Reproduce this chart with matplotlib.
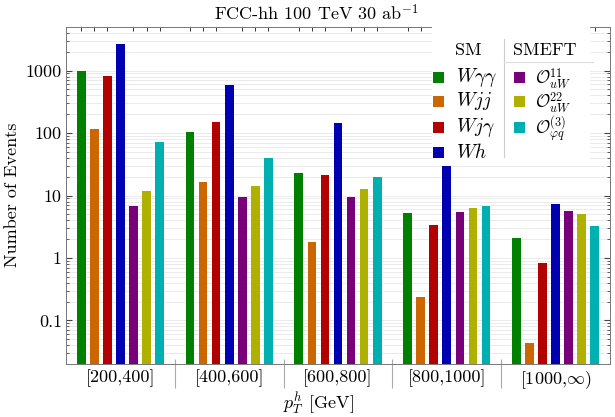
import numpy as np
import matplotlib.pyplot as plt
from matplotlib.patches import Rectangle

plt.rcParams['font.family'] = ['cmr10', 'DejaVu Serif']
plt.rcParams['mathtext.fontset'] = 'cm'
plt.rcParams['axes.unicode_minus'] = False

# --- data
bins = ['[200,400]', '[400,600]', '[600,800]', '[800,1000]', '[1000,$\\infty$)']

w_aa = [1000, 104, 23, 5.2, 2.1]
w_jj = [117, 16.3, 1.78, 0.234, 0.0436]
w_ja = [810, 150, 21.2, 3.4, 0.84]
w_h = [2710, 596, 145, 29.5, 7.3]
o_uw11 = [6.7, 9.4, 9.6, 5.4, 5.7]
o_uw22 = [12, 14.4, 12.8, 6.25, 5.07]
o_phiq3 = [72, 40, 19.7, 6.9, 3.3]

sm_labels = ['$W\\gamma\\gamma$', '$Wjj$', '$Wj\\gamma$', '$Wh$']
smeft_labels = ['$\\mathcal{O}_{uW}^{11}$', '$\\mathcal{O}_{uW}^{22}$',
                '$\\mathcal{O}_{\\varphi q}^{(3)}$']

series = [w_aa, w_jj, w_ja, w_h, o_uw11, o_uw22, o_phiq3]
colors = ['#008000', '#cc6600', '#b30000', '#0000b3',
          '#780078', '#b0b000', '#00b0b0']

fs = 13

fig = plt.figure(figsize=(6.15, 4.17), dpi=100)
ax = fig.add_axes([66/615, 53/417, 544/615, 337/417])

x = np.arange(len(bins))
step = 0.12
width = 0.08

for k in range(len(series)):
    ax.bar(x + (k - 3)*step, series[k], width=width, color=colors[k], zorder=2)

ax.set_yscale('log')
ax.set_ylim(0.02, 5000)
ax.set_xlim(-0.5, len(bins) - 0.5)

# --- grid lines (drawn under the bars, ticks stay on top)
for dec in range(-2, 4):
    for m in range(1, 10):
        v = m * 10.0**dec
        if 0.02 < v < 5000:
            ax.axhline(v, color='#e8e8e8', lw=0.6, zorder=0)

# --- ticks
ax.set_yticks([0.1, 1, 10, 100, 1000])
ax.set_yticklabels(['0.1', '1', '10', '100', '1000'])
ax.yaxis.set_minor_formatter(plt.NullFormatter())
ax.tick_params(axis='y', which='both', direction='in', left=True, right=True,
               color='#444444', labelsize=fs, pad=3)
ax.tick_params(axis='y', which='major', length=4)
ax.tick_params(axis='y', which='minor', length=2)

ax.set_xticks(x)
ax.set_xticklabels(bins)
bar_pos = np.concatenate([x + (k - 3)*step for k in range(len(series))])
ax.set_xticks(bar_pos, minor=True)
ax.tick_params(axis='x', which='major', length=0, pad=4, labelsize=fs)
ax.tick_params(axis='x', which='minor', direction='in', length=3,
               top=True, bottom=True, color='#333333', width=0.7)

for s in ax.spines.values():
    s.set_color('#777777')
    s.set_linewidth(0.7)

# group separators below the axis
ax.vlines(x[:-1] + 0.5, -0.071, 0.015, transform=ax.get_xaxis_transform(),
          colors='#aaaaaa', lw=0.8, clip_on=False)

# --- labels
fig.text(316/615, 1 - 13/417, 'FCC-hh 100 TeV 30 ab$^{-1}$',
         ha='center', va='center', fontsize=fs)
fig.text(318/615, 1 - 403/417, '$p_T^h$ [GeV]', ha='center', va='center', fontsize=fs)
fig.text(12/615, 1 - 195/417, 'Number of Events', rotation=90,
         ha='center', va='center', fontsize=fs)

# --- legend (two columns with headers)
T = ax.transAxes
ax.add_patch(Rectangle((0.673, 0.596), 0.29, 0.404, transform=T,
                       facecolor='white', edgecolor='none', zorder=3))
ax.plot([0.806, 0.806], [0.614, 0.964], transform=T, color='#cccccc', lw=0.8, zorder=4)
ax.plot([0.806, 0.969], [0.896, 0.896], transform=T, color='#dddddd', lw=0.8, zorder=4)
ax.text(0.739, 0.930, 'SM', transform=T, ha='center', va='center', fontsize=fs, zorder=5)
ax.text(0.880, 0.930, 'SMEFT', transform=T, ha='center', va='center', fontsize=fs, zorder=5)

rows = [0.851, 0.780, 0.701, 0.627]
sq_w = 11/544
sq_h = 11/337
for i in range(len(sm_labels)):
    ax.add_patch(Rectangle((0.6745, rows[i] - sq_h/2), sq_w, sq_h, transform=T,
                           facecolor=colors[i], edgecolor='none', zorder=5))
    ax.text(0.716, rows[i], sm_labels[i], transform=T, ha='left', va='center',
            fontsize=14, zorder=5)
for i in range(len(smeft_labels)):
    ax.add_patch(Rectangle((0.824, rows[i] - sq_h/2), sq_w, sq_h, transform=T,
                           facecolor=colors[4 + i], edgecolor='none', zorder=5))
    ax.text(0.862, rows[i] - 0.004, smeft_labels[i], transform=T, ha='left', va='center',
            fontsize=12.5, zorder=5)

plt.savefig('out.png', dpi=100)
